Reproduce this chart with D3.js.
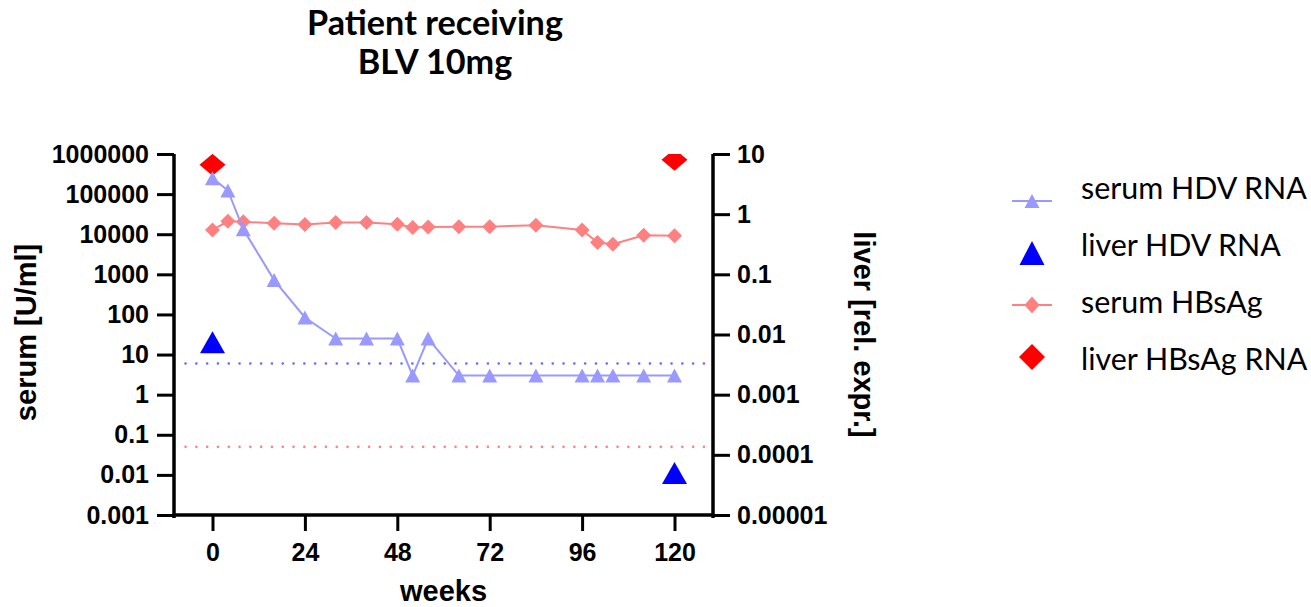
<!DOCTYPE html>
<html>
<head>
<meta charset="utf-8">
<script src="https://cdn.jsdelivr.net/npm/d3@7"></script>
<style>
  body { margin: 0; background: #fff; }
  svg { display: block; }
</style>
</head>
<body>
<svg width="1311" height="607"></svg>
<script>
// data
const weeks = [0, 4, 8, 16, 24, 32, 40, 48, 52, 56, 64, 72, 84, 96, 100, 104, 112, 120];
const serumHDV = [250000, 123000, 13300, 720, 84, 25, 25, 25, 3, 25, 3, 3, 3, 3, 3, 3, 3, 3];
const serumHBsAg = [12800, 21000, 20400, 18800, 17500, 19600, 19600, 17800, 14700, 15200, 15400, 15400, 16800, 12800, 6200, 5600, 9400, 9100];
const liverWeeks = [0, 120];
const liverHDV = [0.0074, 0.00005];
const liverHBsAg = [6.6, 8];
const lloqHDV = 6;      // U/ml
const lloqHBsAg = 0.05; // U/ml
const xTicks = [0, 24, 48, 72, 96, 120];
const leftTicks = [1e6, 1e5, 1e4, 1e3, 100, 10, 1, 0.1, 0.01, 0.001];
const leftLabels = ["1000000", "100000", "10000", "1000", "100", "10", "1", "0.1", "0.01", "0.001"];
const rightTicks = [10, 1, 0.1, 0.01, 0.001, 0.0001, 0.00001];
const rightLabels = ["10", "1", "0.1", "0.01", "0.001", "0.0001", "0.00001"];
const legendLabels = ["serum HDV RNA", "liver HDV RNA", "serum HBsAg", "liver HBsAg RNA"];
const titleLines = ["Patient receiving", "BLV 10mg"];

const c = {
  serumHDV: "#9999ff", liverHDV: "#0000ff",
  serumHBsAg: "#ff8080", liverHBsAg: "#ff0000",
  dotHDV: "#6666ff", dotHBsAg: "#ff8080"
};

const svg = d3.select("svg");
const pL = 174, pR = 713, pT = 154, pB = 515;

const x = d3.scaleLinear().domain([-10, 130]).range([pL, pR]);
const yL = d3.scaleLog().domain([0.001, 1e6]).range([pB, pT]);
const yR = d3.scaleLog().domain([0.00001, 10]).range([pB, pT]);

const tickFont = "'Liberation Sans', Arial, sans-serif";
const softFont = "Lato, 'Open Sans', sans-serif";

// marker shapes centred on the point
const tri = (w, h) => `M0,${-h / 2}L${w / 2},${h / 2}L${-w / 2},${h / 2}Z`;
const dia = (w, h) => `M0,${-h / 2}L${w / 2},0L0,${h / 2}L${-w / 2},0Z`;

svg.append("defs").append("clipPath").attr("id", "plot")
  .append("rect").attr("x", pL - 30).attr("y", pT)
  .attr("width", pR - pL + 60).attr("height", pB - pT + 30);

const plot = svg.append("g").attr("clip-path", "url(#plot)");

// LLOQ dotted lines
[[lloqHDV, c.dotHDV], [lloqHBsAg, c.dotHBsAg]].forEach(([v, col]) => {
  plot.append("line")
    .attr("x1", x(-7)).attr("x2", x(128))
    .attr("y1", yL(v)).attr("y2", yL(v))
    .attr("stroke", col).attr("stroke-width", 2.6)
    .attr("stroke-linecap", "round")
    .attr("stroke-dasharray", "0 10.8");
});

// liver points (right axis)
plot.append("g").selectAll("path").data(liverWeeks).join("path")
  .attr("d", dia(26, 22))
  .attr("transform", (d, i) => `translate(${x(d)},${yR(liverHBsAg[i])})`)
  .attr("fill", c.liverHBsAg);

plot.append("g").selectAll("path").data(liverWeeks).join("path")
  .attr("d", tri(25, 22))
  .attr("transform", (d, i) => `translate(${x(d)},${yR(liverHDV[i])})`)
  .attr("fill", c.liverHDV);

// serum series (left axis)
function serum(vals, col, shape) {
  plot.append("path")
    .datum(weeks)
    .attr("fill", "none").attr("stroke", col).attr("stroke-width", 2)
    .attr("d", d3.line().x(d => x(d)).y((d, i) => yL(vals[i])));
  plot.append("g").selectAll("path").data(weeks).join("path")
    .attr("d", shape)
    .attr("transform", (d, i) => `translate(${x(d)},${yL(vals[i])})`)
    .attr("fill", col);
}
serum(serumHBsAg, c.serumHBsAg, dia(15, 15));
serum(serumHDV, c.serumHDV, tri(15, 14));

// axes
function styleAxis(g) {
  g.select(".domain").attr("stroke-width", 3.5);
  g.selectAll(".tick line").attr("stroke-width", 3);
  g.selectAll(".tick text").attr("font-family", tickFont)
    .attr("font-weight", "bold").attr("font-size", 25).attr("fill", "#000");
}

svg.append("g").attr("transform", `translate(${pL},0)`)
  .call(d3.axisLeft(yL).tickValues(leftTicks)
    .tickFormat((d, i) => leftLabels[i]).tickSize(17).tickPadding(8).tickSizeOuter(0))
  .call(styleAxis)
  .call(g => g.select(".domain").attr("d", `M0,${pT}V${pB + 3}`));

svg.append("g").attr("transform", `translate(${pR},0)`)
  .call(d3.axisRight(yR).tickValues(rightTicks)
    .tickFormat((d, i) => rightLabels[i]).tickSize(17).tickPadding(7).tickSizeOuter(0))
  .call(styleAxis)
  .call(g => g.select(".domain").attr("d", `M0,${pT}V${pB + 3}`));

svg.append("g").attr("transform", `translate(0,${pB})`)
  .call(d3.axisBottom(x).tickValues(xTicks).tickSize(16).tickPadding(12).tickSizeOuter(0))
  .call(styleAxis)
  .call(g => g.select(".domain").attr("d", `M${pL},0H${pR}`));

// axis titles
const titleStyle = t => t.attr("font-family", tickFont).attr("font-weight", "bold")
  .attr("font-size", 29).attr("fill", "#000").attr("text-anchor", "middle");

svg.append("text").text("weeks").call(titleStyle)
  .attr("x", x(60)).attr("y", 601);

svg.append("text").text("serum [U/ml]").call(titleStyle)
  .attr("transform", `translate(36,${(pT + pB) / 2 - 2}) rotate(-90)`);

svg.append("text").text("liver [rel. expr.]").call(titleStyle)
  .attr("transform", `translate(854,${(pT + pB) / 2}) rotate(90)`);

// fit a text to a measured width
function fitWidth(sel, w) {
  const n = sel.node();
  const fs = +sel.attr("font-size");
  sel.attr("font-size", fs * w / n.getComputedTextLength());
}

// chart title, two lines in one text element
const title = svg.append("text").attr("font-family", softFont).attr("font-weight", "bold")
  .attr("text-anchor", "middle").attr("fill", "#000").attr("font-size", 28);
title.selectAll("tspan").data(titleLines).join("tspan")
  .text(d => d).attr("x", 435).attr("y", (d, i) => 35 + i * 39);
const probe = svg.append("text").text(titleLines[0]).attr("font-family", softFont)
  .attr("font-weight", "bold").attr("font-size", 28);
fitWidth(probe, 256);
title.attr("font-size", probe.attr("font-size"));
probe.remove();

// legend
const legend = svg.append("g");
const legendMarks = [
  { col: c.serumHDV, shape: tri(15, 14), line: true },
  { col: c.liverHDV, shape: tri(25, 24), line: false },
  { col: c.serumHBsAg, shape: dia(15, 17), line: true },
  { col: c.liverHBsAg, shape: dia(26, 26), line: false }
];
legendMarks.forEach((m, i) => {
  const yy = 201 + i * 52;
  if (m.line) legend.append("line").attr("x1", 1012).attr("x2", 1052)
    .attr("y1", yy).attr("y2", yy).attr("stroke", m.col).attr("stroke-width", 2);
  legend.append("path").attr("d", m.shape)
    .attr("transform", `translate(1032,${yy})`).attr("fill", m.col);
});
const lt = legend.selectAll("text").data(legendLabels).join("text")
  .text(d => d).attr("x", 1081).attr("y", (d, i) => 199 + i * 57)
  .attr("font-family", softFont).attr("font-size", 34).attr("fill", "#000");
fitWidth(d3.select(lt.nodes()[0]), 226);
lt.attr("font-size", d3.select(lt.nodes()[0]).attr("font-size"));
</script>
</body>
</html>
